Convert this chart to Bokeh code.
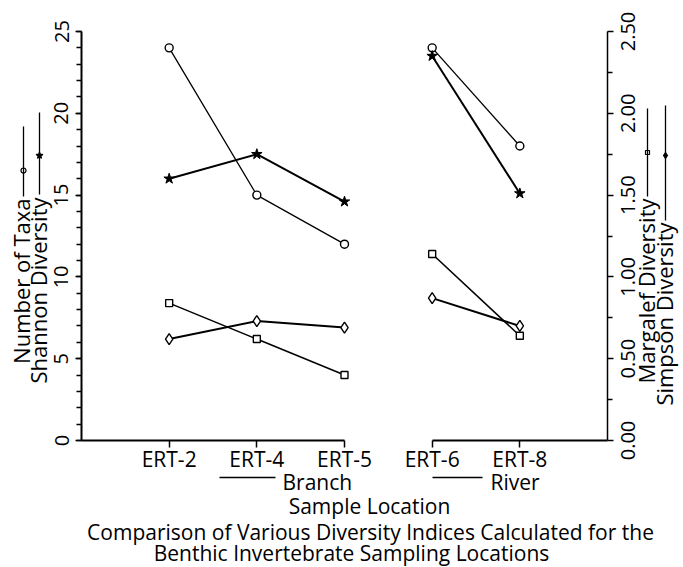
import math
from bokeh.plotting import figure
from bokeh.models import (Range1d, LinearAxis, FixedTicker, SingleIntervalTicker,
                          NumeralTickFormatter, Label, Arrow)
from bokeh.core.properties import value
from bokeh.embed import file_html
from bokeh.resources import INLINE

# ---------------- data ----------------
locations = ["ERT-2", "ERT-4", "ERT-5", "ERT-6", "ERT-8"]
groups = ["Branch", "Branch", "Branch", "River", "River"]
number_of_taxa = [24, 15, 12, 24, 18]          # left axis
shannon = [1.60, 1.75, 1.46, 2.35, 1.51]       # right axis scale
margalef = [0.84, 0.62, 0.40, 1.14, 0.64]      # right axis
simpson = [0.62, 0.73, 0.69, 0.87, 0.70]       # right axis
left_range = (0, 25)
right_range = (0.0, 2.5)
right_ticks = [0.0, 0.5, 1.0, 1.5, 2.0, 2.5]

FONT = "Open Sans"
W, H = 683, 567
# pixel geometry of the plotting area on the canvas
AX_L, AX_R, AX_T, AX_B = 81, 607, 31, 440

positions = list(range(1, len(locations) + 1))
XMAX = len(locations) + 1
YSPAN = left_range[1] - left_range[0]
RSCALE = (right_range[1] - right_range[0]) / YSPAN

def X(px):
    return (px - AX_L) / (AX_R - AX_L) * XMAX

def Y(py):
    return (AX_B - py) / (AX_B - AX_T) * YSPAN

p = figure(width=W, height=H, x_range=Range1d(X(0), X(W)), y_range=Range1d(Y(H), Y(0)),
           output_backend="svg", toolbar_location=None,
           min_border=0, min_border_left=0, min_border_right=0,
           min_border_top=0, min_border_bottom=0,
           x_axis_type=None, y_axis_type=None)
p.outline_line_color = None
p.background_fill_color = "white"
p.border_fill_color = "white"
p.extra_y_ranges = {"r": Range1d(Y(H) * RSCALE, Y(0) * RSCALE)}

# ---------------- axes ----------------
def style_axis(ax, tick_out=6, minor_out=5, width=1.5, size="20px"):
    ax.axis_line_width = width
    ax.axis_line_color = "black"
    ax.major_tick_out = tick_out
    ax.major_tick_in = 0
    ax.minor_tick_out = minor_out
    ax.minor_tick_in = 0
    ax.major_tick_line_width = 1.5
    ax.minor_tick_line_width = 1.5
    ax.major_label_text_font = FONT
    ax.major_label_text_font_size = size
    ax.major_label_text_color = "black"

ya = LinearAxis(fixed_location=0, bounds=left_range,
                ticker=SingleIntervalTicker(interval=5, num_minor_ticks=5))
style_axis(ya, width=2)
ya.major_label_orientation = "vertical"
ya.major_label_standoff = 7
p.add_layout(ya, "left")

ra = LinearAxis(y_range_name="r", fixed_location=XMAX, bounds=right_range,
                ticker=FixedTicker(ticks=right_ticks,
                                   minor_ticks=[t + 0.25 for t in right_ticks[:-1]]),
                formatter=NumeralTickFormatter(format="0.00"))
style_axis(ra, width=1.5)
ra.major_label_text_alpha = 0      # labels drawn rotated (bottom-to-top) below
p.add_layout(ra, "right")
p.text(x=[XMAX + X(627) - X(AX_R)] * len(right_ticks), y=right_ticks,
       text=[f"{t:.2f}" for t in right_ticks], angle=math.pi / 2,
       text_align="center", text_baseline="middle", text_color="black",
       text_font=value(FONT), text_font_size="20px", y_range_name="r")

# broken category axis: one piece per group
glist = list(dict.fromkeys(groups))
for gi, g in enumerate(glist):
    gpos = [pos for pos, gg in zip(positions, groups) if gg == g]
    lo = 0 if gi == 0 else min(gpos)
    hi = XMAX if gi == len(glist) - 1 else max(gpos)
    xa = LinearAxis(fixed_location=0, bounds=(lo, hi), ticker=FixedTicker(ticks=gpos))
    xa.major_label_overrides = {pos: loc for pos, loc, gg in zip(positions, locations, groups) if gg == g}
    style_axis(xa, tick_out=7, minor_out=0, width=2, size="21px")
    xa.minor_tick_line_color = None
    xa.major_label_standoff = -3
    p.add_layout(xa, "below")

# ---------------- series ----------------
def split(vals):
    xs, ys = [], []
    for g in glist:
        idx = [i for i, gg in enumerate(groups) if gg == g]
        xs.append([positions[i] for i in idx])
        ys.append([vals[i] for i in idx])
    return xs, ys

xs, ys = split(number_of_taxa)
p.multi_line(xs, ys, line_color="black", line_width=1.3)
xs, ys = split(shannon)
p.multi_line(xs, ys, line_color="black", line_width=2, y_range_name="r")
xs, ys = split(margalef)
p.multi_line(xs, ys, line_color="black", line_width=1.5, y_range_name="r")
xs, ys = split(simpson)
p.multi_line(xs, ys, line_color="black", line_width=2, y_range_name="r")

p.scatter(positions, number_of_taxa, marker="circle", size=8, fill_color="white",
          line_color="black", line_width=1.4)
p.scatter(positions, shannon, marker="star", size=11, fill_color="black",
          line_color="black", line_width=1, y_range_name="r")
p.scatter(positions, margalef, marker="square", size=7, fill_color="white",
          line_color="black", line_width=1.4, y_range_name="r")
p.scatter(positions, simpson, marker="diamond", size=11, fill_color="white",
          line_color="black", line_width=1.4, y_range_name="r")

# ---------------- axis titles with legend keys ----------------
def vlabel(text, px, py_end, size="22px"):
    p.add_layout(Label(x=X(px), y=Y(py_end), text=text, angle=math.pi / 2,
                       text_align="right", text_baseline="middle",
                       text_font=FONT, text_font_size=size, text_color="black"))

def vkey(px, py0, py1, pym, marker, size, fill):
    p.add_layout(Arrow(end=None, x_start=X(px), y_start=Y(py0), x_end=X(px), y_end=Y(py1),
                       line_color="black", line_width=1.3))
    p.scatter([X(px)], [Y(pym)], marker=marker, size=size, fill_color=fill,
              line_color="black", line_width=1.2)

vlabel("Number of Taxa", 20, 198)
vkey(23, 196, 126, 170, "circle", 5, "white")
vlabel("Shannon Diversity", 37, 197)
vkey(39, 194, 112, 155, "star", 7, "black")
vlabel("Margalef Diversity", 645, 198)
vkey(647, 196, 108, 152, "square", 4, "white")
vlabel("Simpson Diversity", 663, 222)
vkey(665, 220, 105, 155, "diamond", 6, "black")

# ---------------- group / axis / caption texts ----------------
def hlabel(text, px, py, align="center", size="21px"):
    p.add_layout(Label(x=X(px), y=Y(py), text=text, text_align=align,
                       text_baseline="alphabetic", text_font=FONT,
                       text_font_size=size, text_color="black"))

hlabel("Branch", 282, 481, align="left")
p.add_layout(Arrow(end=None, x_start=X(219), y_start=Y(477), x_end=X(275), y_end=Y(477),
                   line_color="black", line_width=1.3))
hlabel("River", 490, 481, align="left")
p.add_layout(Arrow(end=None, x_start=X(432), y_start=Y(477), x_end=X(482), y_end=Y(477),
                   line_color="black", line_width=1.3))
hlabel("Sample Location", 369, 505)
hlabel("Comparison of Various Diversity Indices Calculated for the", 370, 531)
hlabel("Benthic Invertebrate Sampling Locations", 351, 552)

open("out.html", "w").write(file_html(p, INLINE))
